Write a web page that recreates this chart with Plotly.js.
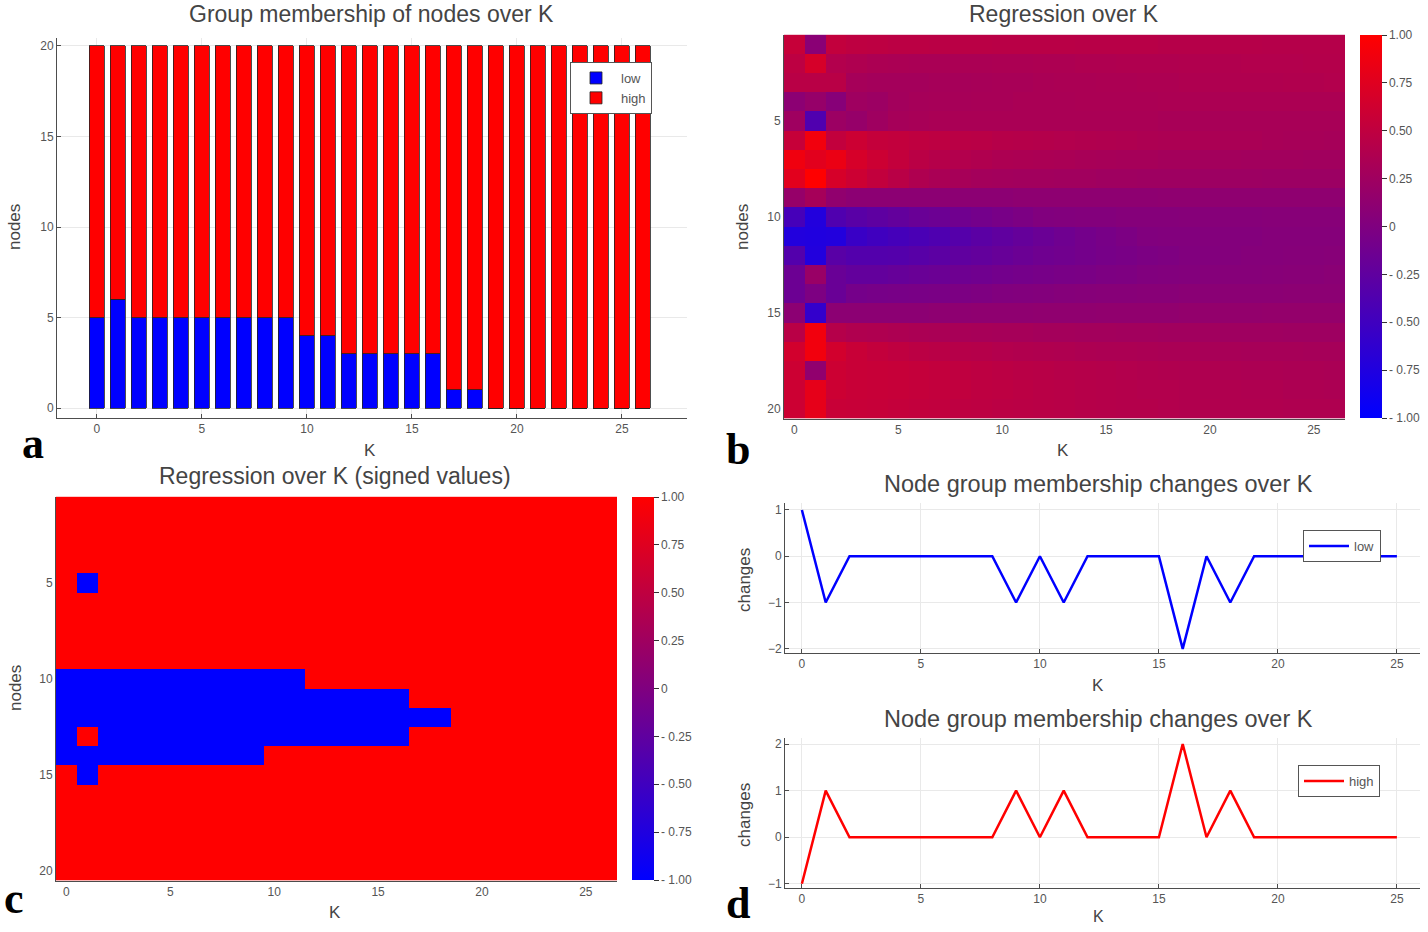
<!DOCTYPE html>
<html>
<head>
<meta charset="utf-8">
<script src="https://cdn.plot.ly/plotly-3.0.1.min.js"></script>
<style>html,body{margin:0;padding:0;background:#fff}#chart{width:1428px;height:932px}</style>
</head>
<body>
<div id="chart"></div>
<script>
// ---------- data ----------
const K = [0,1,2,3,4,5,6,7,8,9,10,11,12,13,14,15,16,17,18,19,20,21,22,23,24,25,26];
const nodes = [1,2,3,4,5,6,7,8,9,10,11,12,13,14,15,16,17,18,19,20];

// panel a: group sizes
const lowCount  = [5,6,5,5,5,5,5,5,5,5,4,4,3,3,3,3,3,1,1,0,0,0,0,0,0,0,0];
const highCount = [15,14,15,15,15,15,15,15,15,15,16,16,17,17,17,17,17,19,19,20,20,20,20,20,20,20,20];

// panel b: regression values, one row per node, columns K = 0..26
const reg01 = [0.55,0.08,0.52,0.49,0.48,0.47,0.47,0.46,0.46,0.46,0.45,0.45,0.45,0.45,0.44,0.44,0.44,0.44,0.43,0.43,0.43,0.43,0.43,0.42,0.42,0.42,0.42];
const reg02 = [0.48,0.68,0.40,0.37,0.35,0.34,0.33,0.33,0.34,0.34,0.35,0.35,0.36,0.36,0.37,0.37,0.38,0.38,0.38,0.39,0.39,0.39,0.40,0.40,0.40,0.41,0.41];
const reg03 = [0.45,0.45,0.45,0.30,0.29,0.29,0.29,0.30,0.30,0.31,0.32,0.32,0.33,0.34,0.34,0.35,0.35,0.36,0.36,0.37,0.37,0.38,0.38,0.38,0.39,0.39,0.40];
const reg04 = [0.10,0.18,0.06,0.25,0.22,0.28,0.30,0.31,0.31,0.32,0.32,0.33,0.33,0.33,0.34,0.34,0.34,0.34,0.35,0.35,0.35,0.35,0.35,0.35,0.35,0.35,0.35];
const reg05 = [0.25,-0.37,0.22,0.18,0.25,0.30,0.32,0.33,0.33,0.33,0.33,0.33,0.33,0.33,0.33,0.33,0.33,0.33,0.32,0.32,0.32,0.32,0.32,0.32,0.32,0.32,0.32];
const reg06 = [0.55,0.90,0.52,0.60,0.54,0.52,0.50,0.48,0.46,0.45,0.43,0.42,0.41,0.40,0.39,0.38,0.37,0.36,0.35,0.35,0.34,0.33,0.33,0.32,0.31,0.31,0.30];
const reg07 = [0.88,0.77,0.84,0.68,0.60,0.53,0.46,0.42,0.40,0.38,0.36,0.35,0.34,0.33,0.32,0.31,0.30,0.30,0.29,0.29,0.28,0.28,0.27,0.27,0.27,0.26,0.26];
const reg08 = [0.77,1.00,0.68,0.60,0.52,0.45,0.37,0.33,0.31,0.29,0.28,0.27,0.27,0.26,0.26,0.25,0.25,0.24,0.24,0.24,0.23,0.23,0.23,0.22,0.22,0.22,0.22];
const reg09 = [0.18,0.30,0.14,0.10,0.10,0.10,0.10,0.10,0.10,0.10,0.10,0.11,0.11,0.11,0.11,0.11,0.11,0.11,0.12,0.12,0.12,0.12,0.12,0.12,0.12,0.12,0.12];
const reg10 = [-0.45,-0.73,-0.37,-0.30,-0.26,-0.22,-0.18,-0.15,-0.12,-0.09,-0.06,-0.03,0.01,0.02,0.03,0.03,0.04,0.04,0.04,0.05,0.05,0.05,0.05,0.06,0.06,0.06,0.06];
const reg11 = [-0.73,-0.75,-0.73,-0.55,-0.50,-0.46,-0.42,-0.38,-0.33,-0.29,-0.25,-0.21,-0.17,-0.13,-0.09,-0.06,-0.03,0.01,0.02,0.02,0.03,0.03,0.03,0.04,0.04,0.04,0.04];
const reg12 = [-0.35,-0.73,-0.30,-0.35,-0.35,-0.34,-0.31,-0.28,-0.25,-0.22,-0.19,-0.16,-0.13,-0.11,-0.09,-0.07,-0.05,-0.03,-0.01,0.01,0.02,0.03,0.04,0.04,0.05,0.05,0.06];
const reg13 = [-0.15,0.20,-0.18,-0.22,-0.22,-0.20,-0.18,-0.16,-0.14,-0.12,-0.10,-0.08,-0.07,-0.05,-0.04,-0.02,-0.01,0.01,0.02,0.03,0.04,0.05,0.05,0.06,0.07,0.07,0.08];
const reg14 = [-0.15,-0.02,-0.18,-0.08,-0.07,-0.06,-0.05,-0.04,-0.03,-0.01,0.01,0.02,0.03,0.04,0.05,0.06,0.06,0.07,0.07,0.08,0.08,0.09,0.09,0.09,0.10,0.10,0.10];
const reg15 = [0.10,-0.60,0.10,0.10,0.10,0.10,0.10,0.11,0.11,0.12,0.12,0.12,0.13,0.13,0.13,0.14,0.14,0.14,0.14,0.15,0.15,0.15,0.15,0.16,0.16,0.16,0.16];
const reg16 = [0.45,0.90,0.42,0.38,0.37,0.36,0.34,0.33,0.32,0.31,0.30,0.30,0.29,0.29,0.28,0.28,0.27,0.27,0.26,0.26,0.26,0.25,0.25,0.25,0.24,0.24,0.24];
const reg17 = [0.65,0.90,0.65,0.57,0.53,0.50,0.47,0.45,0.43,0.42,0.40,0.39,0.38,0.37,0.36,0.35,0.35,0.34,0.33,0.33,0.32,0.32,0.31,0.31,0.31,0.30,0.30];
const reg18 = [0.60,0.14,0.60,0.57,0.56,0.55,0.54,0.52,0.50,0.48,0.47,0.45,0.44,0.43,0.42,0.41,0.40,0.39,0.38,0.37,0.37,0.36,0.35,0.35,0.34,0.34,0.33];
const reg19 = [0.60,0.80,0.60,0.57,0.56,0.55,0.54,0.52,0.51,0.49,0.48,0.47,0.45,0.44,0.43,0.42,0.41,0.40,0.40,0.39,0.38,0.38,0.37,0.37,0.36,0.36,0.35];
const reg20 = [0.60,0.80,0.57,0.56,0.55,0.54,0.52,0.51,0.49,0.48,0.47,0.46,0.45,0.44,0.43,0.42,0.41,0.41,0.40,0.39,0.39,0.38,0.38,0.38,0.37,0.37,0.37];

// panel c: signed regression values, one row per node, columns K = 0..26
const sgn01 = [1,1,1,1,1,1,1,1,1,1,1,1,1,1,1,1,1,1,1,1,1,1,1,1,1,1,1];
const sgn02 = [1,1,1,1,1,1,1,1,1,1,1,1,1,1,1,1,1,1,1,1,1,1,1,1,1,1,1];
const sgn03 = [1,1,1,1,1,1,1,1,1,1,1,1,1,1,1,1,1,1,1,1,1,1,1,1,1,1,1];
const sgn04 = [1,1,1,1,1,1,1,1,1,1,1,1,1,1,1,1,1,1,1,1,1,1,1,1,1,1,1];
const sgn05 = [1,-1,1,1,1,1,1,1,1,1,1,1,1,1,1,1,1,1,1,1,1,1,1,1,1,1,1];
const sgn06 = [1,1,1,1,1,1,1,1,1,1,1,1,1,1,1,1,1,1,1,1,1,1,1,1,1,1,1];
const sgn07 = [1,1,1,1,1,1,1,1,1,1,1,1,1,1,1,1,1,1,1,1,1,1,1,1,1,1,1];
const sgn08 = [1,1,1,1,1,1,1,1,1,1,1,1,1,1,1,1,1,1,1,1,1,1,1,1,1,1,1];
const sgn09 = [1,1,1,1,1,1,1,1,1,1,1,1,1,1,1,1,1,1,1,1,1,1,1,1,1,1,1];
const sgn10 = [-1,-1,-1,-1,-1,-1,-1,-1,-1,-1,-1,-1,1,1,1,1,1,1,1,1,1,1,1,1,1,1,1];
const sgn11 = [-1,-1,-1,-1,-1,-1,-1,-1,-1,-1,-1,-1,-1,-1,-1,-1,-1,1,1,1,1,1,1,1,1,1,1];
const sgn12 = [-1,-1,-1,-1,-1,-1,-1,-1,-1,-1,-1,-1,-1,-1,-1,-1,-1,-1,-1,1,1,1,1,1,1,1,1];
const sgn13 = [-1,1,-1,-1,-1,-1,-1,-1,-1,-1,-1,-1,-1,-1,-1,-1,-1,1,1,1,1,1,1,1,1,1,1];
const sgn14 = [-1,-1,-1,-1,-1,-1,-1,-1,-1,-1,1,1,1,1,1,1,1,1,1,1,1,1,1,1,1,1,1];
const sgn15 = [1,-1,1,1,1,1,1,1,1,1,1,1,1,1,1,1,1,1,1,1,1,1,1,1,1,1,1];
const sgn16 = [1,1,1,1,1,1,1,1,1,1,1,1,1,1,1,1,1,1,1,1,1,1,1,1,1,1,1];
const sgn17 = [1,1,1,1,1,1,1,1,1,1,1,1,1,1,1,1,1,1,1,1,1,1,1,1,1,1,1];
const sgn18 = [1,1,1,1,1,1,1,1,1,1,1,1,1,1,1,1,1,1,1,1,1,1,1,1,1,1,1];
const sgn19 = [1,1,1,1,1,1,1,1,1,1,1,1,1,1,1,1,1,1,1,1,1,1,1,1,1,1,1];
const sgn20 = [1,1,1,1,1,1,1,1,1,1,1,1,1,1,1,1,1,1,1,1,1,1,1,1,1,1,1];

// panel d: membership changes
const Kd = [0,1,2,3,4,5,6,7,8,9,10,11,12,13,14,15,16,17,18,19,20,21,22,23,24,25];
const lowChanges  = [1,-1,0,0,0,0,0,0,0,-1,0,-1,0,0,0,0,-2,0,-1,0,0,0,0,0,0,0];
const highChanges = [-1,1,0,0,0,0,0,0,0,1,0,1,0,0,0,0,2,0,1,0,0,0,0,0,0,0];

const cbTickVals = [1,0.75,0.5,0.25,0,-0.25,-0.5,-0.75,-1];
const cbTickText = ['1.00','0.75','0.50','0.25','0','- 0.25','- 0.50','- 0.75','- 1.00'];

// ---------- figure ----------
const regMatrix = [reg01,reg02,reg03,reg04,reg05,reg06,reg07,reg08,reg09,reg10,reg11,reg12,reg13,reg14,reg15,reg16,reg17,reg18,reg19,reg20];
const sgnMatrix = [sgn01,sgn02,sgn03,sgn04,sgn05,sgn06,sgn07,sgn08,sgn09,sgn10,sgn11,sgn12,sgn13,sgn14,sgn15,sgn16,sgn17,sgn18,sgn19,sgn20];

const W = 1428, H = 932;
const px = v => v / W;
const py = v => 1 - v / H;

const FONT = 'Liberation Sans, Arial, sans-serif';
const TICKC = '#555555';
const AXC = '#4d4d4d';
const GRID = '#e9e9e9';
const scale = [[0,'rgb(0,0,255)'],[1,'rgb(255,0,0)']];

function cbar(xpx, ytop, ybot) {
  return {
    x: px(xpx), xanchor: 'left', xpad: 0,
    y: py((ytop + ybot) / 2), yanchor: 'middle', ypad: 0,
    len: ybot - ytop, lenmode: 'pixels',
    thickness: 22, thicknessmode: 'pixels',
    outlinewidth: 0,
    tickmode: 'array', tickvals: cbTickVals, ticktext: cbTickText,
    ticks: 'outside', ticklen: 5, tickcolor: '#333', tickwidth: 1,
    tickfont: {family: FONT, size: 12, color: TICKC}
  };
}

const traces = [
  {type: 'bar', x: K, y: lowCount, name: 'low', xaxis: 'x', yaxis: 'y', width: 0.72,
   marker: {color: '#0000ff', line: {color: '#222', width: 0.8}}, legend: 'legend'},
  {type: 'bar', x: K, y: highCount, name: 'high', xaxis: 'x', yaxis: 'y', width: 0.72,
   marker: {color: '#ff0000', line: {color: '#222', width: 0.8}}, legend: 'legend'},
  {type: 'heatmap', x: K, y: nodes, z: regMatrix, xaxis: 'x2', yaxis: 'y2',
   colorscale: scale, zmin: -1, zmax: 1, showlegend: false, colorbar: cbar(1360, 35, 418)},
  {type: 'heatmap', x: K, y: nodes, z: sgnMatrix, xaxis: 'x3', yaxis: 'y3',
   colorscale: scale, zmin: -1, zmax: 1, showlegend: false, colorbar: cbar(632, 497, 880)},
  {type: 'scatter', mode: 'lines', x: Kd, y: lowChanges, name: 'low', xaxis: 'x4', yaxis: 'y4',
   line: {color: '#0000ff', width: 2.5}, legend: 'legend2'},
  {type: 'scatter', mode: 'lines', x: Kd, y: highChanges, name: 'high', xaxis: 'x5', yaxis: 'y5',
   line: {color: '#ff0000', width: 2.5}, legend: 'legend3'}
];

function ax(domain, range, extra) {
  return Object.assign({
    domain: domain, range: range, autorange: false,
    showline: true, linecolor: AXC, linewidth: 1, mirror: false,
    ticks: 'inside', ticklen: 4, tickcolor: AXC,
    showgrid: true, gridcolor: GRID, gridwidth: 1, zeroline: false,
    tickfont: {family: FONT, size: 12, color: TICKC},
    fixedrange: true
  }, extra || {});
}

const xTicks = {tickmode: 'array', tickvals: [0,5,10,15,20,25]};

const layout = {
  width: W, height: H,
  margin: {l: 0, r: 0, t: 0, b: 0},
  paper_bgcolor: '#fff', plot_bgcolor: '#fff',
  barmode: 'stack',
  font: {family: FONT, color: TICKC},
  xaxis:  ax([px(57), px(687)], [-1.9, 28.1], Object.assign({anchor: 'y'}, xTicks)),
  yaxis:  ax([py(418), py(38)], [-0.55, 20.44], {anchor: 'x', tickmode: 'array', tickvals: [0,5,10,15,20]}),
  xaxis2: ax([px(784), px(1345)], [-0.5, 26.5], Object.assign({anchor: 'y2', showgrid: false, ticks: ''}, xTicks)),
  yaxis2: ax([py(418.6), py(34.6)], [20.5, 0.5], {anchor: 'x2', showgrid: false, ticks: '', tickmode: 'array', tickvals: [5,10,15,20]}),
  xaxis3: ax([px(56), px(617)], [-0.5, 26.5], Object.assign({anchor: 'y3', showgrid: false, ticks: ''}, xTicks)),
  yaxis3: ax([py(880.6), py(496.6)], [20.5, 0.5], {anchor: 'x3', showgrid: false, ticks: '', tickmode: 'array', tickvals: [5,10,15,20]}),
  xaxis4: ax([px(785), px(1420)], [-0.71, 25.97], Object.assign({anchor: 'y4'}, xTicks)),
  yaxis4: ax([py(653), py(503)], [-2.09, 1.15], {anchor: 'x4', tickmode: 'array', tickvals: [-2,-1,0,1]}),
  xaxis5: ax([px(785), px(1420)], [-0.71, 25.97], Object.assign({anchor: 'y5'}, xTicks)),
  yaxis5: ax([py(888), py(738)], [-1.09, 2.13], {anchor: 'x5', tickmode: 'array', tickvals: [-1,0,1,2]}),
  legend: {x: px(570), y: py(62), xanchor: 'left', yanchor: 'top', traceorder: 'normal',
           bgcolor: '#fff', bordercolor: '#555', borderwidth: 1,
           font: {family: FONT, size: 13, color: TICKC}, itemwidth: 40, tracegroupgap: 0},
  legend2: {x: px(1303), y: py(530), xanchor: 'left', yanchor: 'top',
           bgcolor: '#fff', bordercolor: '#555', borderwidth: 1,
           font: {family: FONT, size: 13, color: TICKC}, itemwidth: 40},
  legend3: {x: px(1298), y: py(765), xanchor: 'left', yanchor: 'top',
           bgcolor: '#fff', bordercolor: '#555', borderwidth: 1,
           font: {family: FONT, size: 13, color: TICKC}, itemwidth: 40},
  annotations: []
};

function note(text, xp, yp, size, opts) {
  layout.annotations.push(Object.assign({
    text: text, x: px(xp), y: py(yp), xref: 'paper', yref: 'paper',
    xanchor: 'center', yanchor: 'middle', showarrow: false,
    font: {family: FONT, size: size, color: '#444'}
  }, opts || {}));
}

// titles
note('Group membership of nodes over K', 371, 14, 23);
note('Regression over K', 1064, 14, 23);
note('Regression over K (signed values)', 335, 476, 23);
note('Node group membership changes over K', 1098, 484, 23.5);
note('Node group membership changes over K', 1098, 719, 23.5);
// axis titles
note('K', 370, 450, 17);
note('K', 1063, 450, 17);
note('K', 335, 912, 17);
note('K', 1098, 685, 17);
note('K', 1098, 916, 16);
note('nodes', 15, 227, 17, {textangle: -90});
note('nodes', 743, 227, 17, {textangle: -90});
note('nodes', 15, 688, 17, {textangle: -90});
note('changes', 744, 580, 17, {textangle: -90});
note('changes', 744, 815, 17, {textangle: -90});
// panel letters
const LET = {family: 'Liberation Serif, Times New Roman, serif', size: 44, color: '#000', weight: 'bold'};
note('<b>a</b>', 33, 443, 44, {font: LET});
note('<b>b</b>', 738, 449, 44, {font: LET});
note('<b>c</b>', 14, 898, 44, {font: LET});
note('<b>d</b>', 738, 903, 44, {font: LET});

Plotly.newPlot('chart', traces, layout, {staticPlot: true, displayModeBar: false});
</script>
</body>
</html>
